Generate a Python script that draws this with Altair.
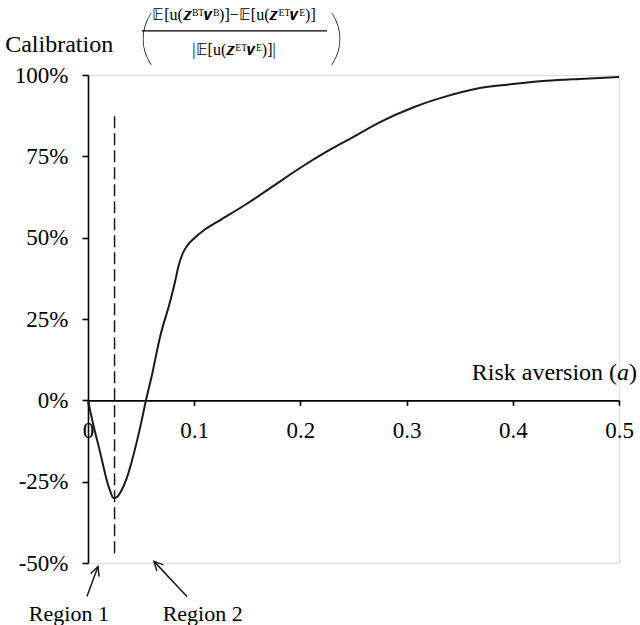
import math
import altair as alt
import pandas as pd

# ---------------- data ----------------
risk_aversion = [0, 0.005, 0.0107, 0.015, 0.0176, 0.021, 0.024, 0.027, 0.031, 0.0364,
                 0.041, 0.045, 0.05, 0.0546, 0.06, 0.068, 0.077, 0.082, 0.085, 0.089,
                 0.094, 0.099, 0.11, 0.125, 0.15, 0.175, 0.2, 0.225, 0.25, 0.275,
                 0.306, 0.338, 0.369, 0.40, 0.432, 0.463, 0.5]
calibration = [0, -0.075, -0.15, -0.21, -0.245, -0.28, -0.30, -0.298, -0.28, -0.24,
               -0.19, -0.14, -0.07, 0.0, 0.075, 0.197, 0.30, 0.365, 0.41, 0.45,
               0.478, 0.495, 0.525, 0.555, 0.605, 0.66, 0.715, 0.765, 0.81, 0.855,
               0.90, 0.935, 0.96, 0.972, 0.982, 0.988, 0.994]

x_ticks = [0, 0.1, 0.2, 0.3, 0.4, 0.5]
y_ticks = [-0.5, -0.25, 0, 0.25, 0.5, 0.75, 1.0]

marker_a = [0.025]
marker_low = [-0.47]
marker_high = [0.88]

region_labels = ["Region 1", "Region 2"]
region_x = [-0.018, 0.108]
region_y = [-0.677, -0.677]
arrow_tail_x = [-0.001, 0.0932]
arrow_tail_y = [-0.603, -0.603]
arrow_tip_x = [0.0094, 0.0621]
arrow_tip_y = [-0.511, -0.495]

title_word = "Calibration"
numerator = "𝔼[u(𝒛ᴮᵀ𝒗ᴮ)]−𝔼[u(𝒛ᴱᵀ𝒗ᴱ)]"
denominator = "|𝔼[u(𝒛ᴱᵀ𝒗ᴱ)]|"
x_title_main = "Risk aversion ("
x_title_var = "a"
x_title_end = ")"

# ---------------- layout ----------------
FONT = "Liberation Serif"
W, H = 531, 488
X_DOM = [0, 0.5]
Y_DOM = [-0.5, 1.0]
PX_X = W / (X_DOM[1] - X_DOM[0])
PX_Y = H / (Y_DOM[1] - Y_DOM[0])

xs = alt.Scale(domain=X_DOM, nice=False, zero=False)
ys = alt.Scale(domain=Y_DOM, nice=False, zero=False)

curve_df = pd.DataFrame({"a": risk_aversion, "c": calibration})

curve = alt.Chart(curve_df).mark_line(
    color="#1a1a1a", strokeWidth=2, interpolate="monotone"
).encode(
    x=alt.X("a:Q", scale=xs, axis=alt.Axis(
        values=x_ticks, title=None, grid=False, orient="bottom",
        offset=-(H * (0 - Y_DOM[0]) / (Y_DOM[1] - Y_DOM[0])),
        domainColor="black", domainWidth=1.6, tickColor="black", tickWidth=1.6,
        tickSize=5, labelFont=FONT, labelFontSize=23, labelColor="black",
        labelPadding=14, labelFlush=False, labelOverlap=False,
        labelExpr="datum.value == 0 ? '0' : format(datum.value, '.1f')")),
    y=alt.Y("c:Q", scale=ys, axis=alt.Axis(
        values=y_ticks, title=None, grid=False,
        domainColor="black", domainWidth=1.6, tickColor="black", tickWidth=1.6,
        tickSize=6, labelFont=FONT, labelFontSize=23, labelColor="black",
        labelPadding=14, labelOverlap=False,
        labelExpr="round(datum.value * 100) + '%'")),
)

marker_df = pd.DataFrame({"a": marker_a, "lo": marker_low, "hi": marker_high})
marker = alt.Chart(marker_df).mark_rule(
    color="#1a1a1a", strokeWidth=1.5, strokeDash=[12, 5]
).encode(x=alt.X("a:Q", scale=xs), y=alt.Y("lo:Q", scale=ys), y2="hi:Q")

arrow_df = pd.DataFrame({
    "x0": arrow_tail_x, "y0": arrow_tail_y, "x1": arrow_tip_x, "y1": arrow_tip_y,
})
arrow_df["ang"] = [
    (math.degrees(math.atan2((x1 - x0) * PX_X, (y1 - y0) * PX_Y)) + 360) % 360
    for x0, y0, x1, y1 in zip(arrow_tail_x, arrow_tail_y, arrow_tip_x, arrow_tip_y)
]
shafts = alt.Chart(arrow_df).mark_rule(color="#1a1a1a", strokeWidth=1.5).encode(
    x=alt.X("x0:Q", scale=xs), y=alt.Y("y0:Q", scale=ys), x2="x1:Q", y2="y1:Q")
heads = alt.Chart(arrow_df).mark_point(
    shape="M-0.5,1L0,0L0.5,1", filled=False, color="#1a1a1a", strokeWidth=1.5,
    size=324, opacity=1
).encode(x=alt.X("x1:Q", scale=xs), y=alt.Y("y1:Q", scale=ys),
         angle=alt.Angle("ang:Q", scale=None))

region_df = pd.DataFrame({"t": region_labels, "x": region_x, "y": region_y})
regions = alt.Chart(region_df).mark_text(
    font=FONT, fontSize=22, color="black", align="center", baseline="alphabetic"
).encode(x=alt.X("x:Q", scale=xs), y=alt.Y("y:Q", scale=ys), text="t:N")


def label(text, x, y, size, align="left", style="normal", font=FONT, dx=0,
          weight="normal", baseline="alphabetic"):
    df = pd.DataFrame({"t": [text], "x": [x], "y": [y]})
    return alt.Chart(df).mark_text(
        font=font, fontSize=size, color="black", align=align, baseline=baseline,
        fontStyle=style, fontWeight=weight, dx=dx
    ).encode(x=alt.X("x:Q", scale=xs), y=alt.Y("y:Q", scale=ys), text="t:N")


x_title = [
    label(x_title_end, 0.517, 0.0615, 24, align="right"),
    label(x_title_var, 0.517, 0.0615, 24, align="right", style="italic", dx=-8),
    label(x_title_main, 0.517, 0.0615, 24, align="right", dx=-20),
]

title_parts = [
    label(title_word, -0.078, 1.072, 24),
    label("(", 0.048, 1.052, 60, font="Lato", weight=100),
    label(")", 0.227, 1.052, 60, font="Lato", weight=100),
    label(numerator, 0.1375, 1.169, 16, align="center"),
    label(denominator, 0.1375, 1.0615, 16, align="center"),
]
bar_df = pd.DataFrame({"x": [0.0508], "x2": [0.2250], "y": [1.1354]})
frac_bar = alt.Chart(bar_df).mark_rule(color="black", strokeWidth=1.2).encode(
    x=alt.X("x:Q", scale=xs), x2="x2:Q", y=alt.Y("y:Q", scale=ys))

chart = alt.layer(
    curve, marker, shafts, heads, regions, frac_bar, *x_title, *title_parts
).properties(
    width=W, height=H,
    autosize=alt.AutoSizeParams(type="none"),
    padding={"left": 88, "top": 75, "right": 21, "bottom": 62},
).configure_view(stroke=None).configure(
    background="white", font=FONT
).configure_axis(labelFont=FONT).configure_text(font=FONT)

chart.save("out.html", embed_options={"renderer": "svg", "actions": False})
